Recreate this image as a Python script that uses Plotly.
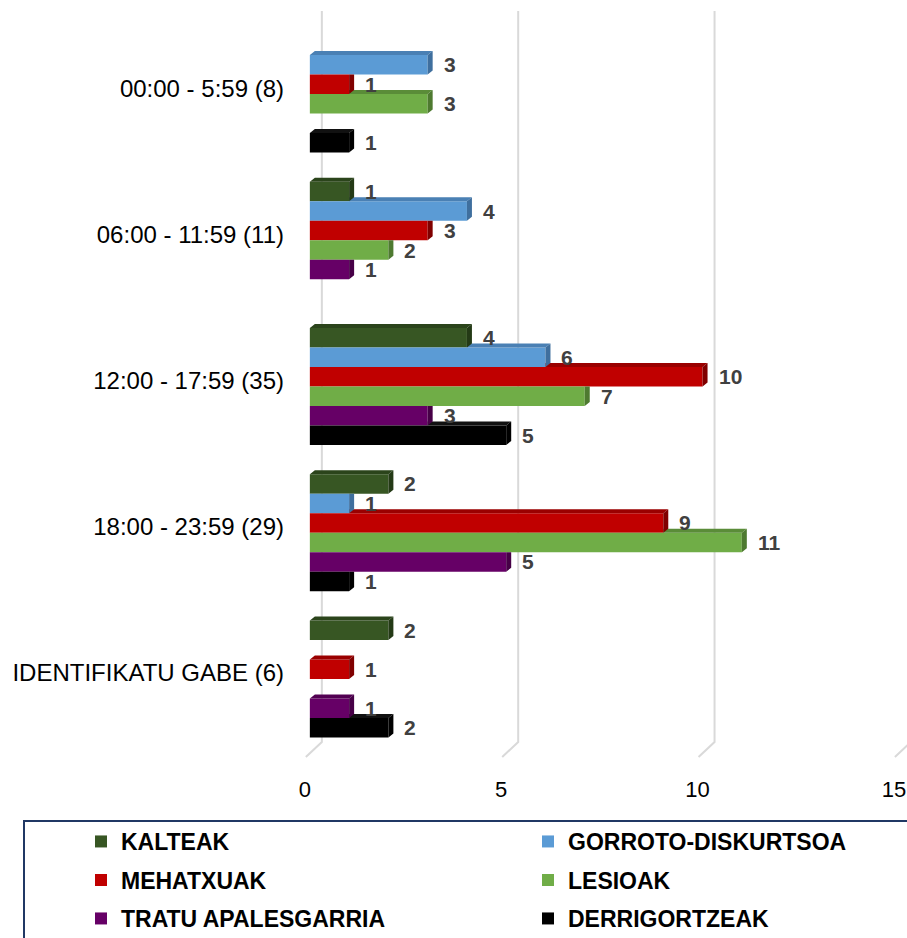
import plotly.graph_objects as go

# ---- data -------------------------------------------------------------
categories = [
    "00:00 - 5:59 (8)",
    "06:00 - 11:59 (11)",
    "12:00 - 17:59 (35)",
    "18:00 - 23:59 (29)",
    "IDENTIFIKATU GABE (6)",
]
series_names = [
    "KALTEAK",
    "GORROTO-DISKURTSOA",
    "MEHATXUAK",
    "LESIOAK",
    "TRATU APALESGARRIA",
    "DERRIGORTZEAK",
]
kalteak = [0, 1, 4, 2, 2]
gorroto_diskurtsoa = [3, 4, 6, 1, 0]
mehatxuak = [1, 3, 10, 9, 1]
lesioak = [3, 2, 7, 11, 0]
tratu_apalesgarria = [0, 1, 3, 5, 1]
derrigortzeak = [1, 0, 5, 1, 2]
x_ticks = [0, 5, 10, 15]

series_values = [kalteak, gorroto_diskurtsoa, mehatxuak, lesioak,
                 tratu_apalesgarria, derrigortzeak]

# ---- styling ----------------------------------------------------------
front_colors = ["#375623", "#5B9BD5", "#C00000", "#70AD47", "#660066", "#000000"]
top_colors = ["#2B441B", "#4A80B4", "#9A0000", "#5A8C38", "#520052", "#111111"]
side_colors = ["#243A16", "#3F6F9E", "#800000", "#4E7A30", "#470047", "#000000"]

FONT = "Liberation Sans, Arial, sans-serif"
W, H = 907, 938
M_L, M_R, M_T, M_B = 302, 0, 21, 186
PLOT_W = W - M_L - M_R
PLOT_H = H - M_T - M_B
PX_PER_UNIT = 39.27
X_MIN = -0.2
X_MAX = X_MIN + PLOT_W / PX_PER_UNIT
N_CAT = len(categories)
PX_PER_CAT = PLOT_H / N_CAT

BARGAP = 0.2
N_SER = len(series_names)
SLOT = (1 - BARGAP) / N_SER
HALF = SLOT / 2

# 3-D look: depth of the bars and of the back wall, in pixels
DEPTH_DX = 5 / PX_PER_UNIT
DEPTH_DY = 4 / PX_PER_CAT
WALL_DX = 12 / PX_PER_UNIT
WALL_DY = 10 / PLOT_H
FLOOR_DX = -4 / PX_PER_UNIT
FLOOR_DY = -5 / PLOT_H

cat_pos = list(range(N_CAT))


def slot_center(i, j):
    return i - (1 - BARGAP) / 2 + (j + 0.5) * SLOT


def px_to_paper_x(px):
    return (px - M_L) / PLOT_W


def px_to_paper_y(py):
    return (M_T + PLOT_H - py) / PLOT_H


fig = go.Figure()

# front faces
legend_ids = ["legend", "legend2", "legend3", "legend4", "legend5", "legend6"]
for j, (name, vals) in enumerate(zip(series_names, series_values)):
    fig.add_trace(go.Bar(
        y=cat_pos,
        x=[v if v > 0 else None for v in vals],
        orientation="h",
        name=name,
        marker=dict(color=front_colors[j], line=dict(width=0)),
        legend=legend_ids[j],
        hovertemplate=name + ": %{x}<extra></extra>",
    ))

# top and side faces, drawn from the lowest series upward so that each
# bar hides the depth faces of the bar below it
for j in reversed(range(N_SER)):
    vals = series_values[j]
    above = series_values[j - 1] if j > 0 else [0] * N_CAT
    tx, ty, sx, sy = [], [], [], []
    for i, v in enumerate(vals):
        if v <= 0:
            continue
        yc = slot_center(i, j)
        top, bot = yc - HALF, yc + HALF
        vu = above[i]
        if vu < v:
            x0 = max(0, vu)
            if x0 == 0:
                tx += [0, v, v + DEPTH_DX, DEPTH_DX, 0, None]
            else:
                tx += [x0, v, v + DEPTH_DX, x0, x0, None]
            ty += [top, top, top - DEPTH_DY, top - DEPTH_DY, top, None]
        corner = top - DEPTH_DY if vu <= v else top
        sx += [v, v, v + DEPTH_DX, v + DEPTH_DX, v, None]
        sy += [bot, top, corner, bot - DEPTH_DY, bot, None]
    for xs, ys, col in ((tx, ty, top_colors[j]), (sx, sy, side_colors[j])):
        if xs:
            fig.add_trace(go.Scatter(
                x=xs, y=ys, mode="lines", fill="toself",
                fillcolor=col, line=dict(width=0, color=col),
                hoverinfo="skip", showlegend=False,
            ))

# value labels
annotations = []
for j, vals in enumerate(series_values):
    for i, v in enumerate(vals):
        if v > 0:
            annotations.append(dict(
                x=v, y=slot_center(i, j), xref="x", yref="y",
                text=str(v), showarrow=False, xanchor="left", yanchor="middle",
                xshift=14,
                font=dict(family=FONT, size=21, color="#404040", weight="bold"),
            ))

# back-wall gridlines with their slanted floor segment
shapes = []
for t in x_ticks:
    xb = t + WALL_DX
    xf = t + FLOOR_DX
    path = (f"M {xb},{1 + WALL_DY} L {xb},{WALL_DY} "
            f"L {xf},{FLOOR_DY}")
    shapes.append(dict(type="path", xref="x", yref="paper", path=path,
                       line=dict(color="#D9D9D9", width=2), layer="below"))

# legend frame
shapes.append(dict(type="rect", xref="paper", yref="paper",
                   x0=px_to_paper_x(24), x1=px_to_paper_x(W + 20),
                   y0=px_to_paper_y(821), y1=px_to_paper_y(H + 20),
                   line=dict(color="#203864", width=2), fillcolor="rgba(0,0,0,0)"))

# one legend per entry, laid out in two columns
legend_cols = [81, 528]
legend_rows = [841.5, 880, 918.5]
layout_legends = {}
for j, lid in enumerate(legend_ids):
    col, row = j % 2, j // 2
    layout_legends[lid] = dict(
        x=px_to_paper_x(legend_cols[col]),
        y=px_to_paper_y(legend_rows[row]),
        xanchor="left", yanchor="middle",
        bgcolor="rgba(0,0,0,0)", borderwidth=0,
        font=dict(family=FONT, size=23, color="#000000", weight="bold"),
    )

fig.update_layout(
    width=W, height=H,
    margin=dict(l=M_L, r=M_R, t=M_T, b=M_B, pad=0, autoexpand=False),
    paper_bgcolor="white", plot_bgcolor="white",
    barmode="group", bargap=BARGAP, bargroupgap=0,
    showlegend=True,
    annotations=annotations,
    shapes=shapes,
    **layout_legends,
)

fig.update_xaxes(
    range=[X_MIN, X_MAX], tickvals=x_ticks, ticktext=[str(t) for t in x_ticks],
    showgrid=False, zeroline=False, showline=False, ticks="",
    tickfont=dict(family=FONT, size=22, color="#000000"),
    ticklabelstandoff=22, ticklabelshift=-5, automargin=False,
)
fig.update_yaxes(
    range=[N_CAT - 0.5, -0.5], tickvals=cat_pos, ticktext=categories,
    showgrid=False, zeroline=False, showline=False, ticks="",
    tickfont=dict(family=FONT, size=24, color="#000000"),
    ticklabelstandoff=17, ticklabelshift=6, automargin=False,
)

fig.write_html("out.html")
